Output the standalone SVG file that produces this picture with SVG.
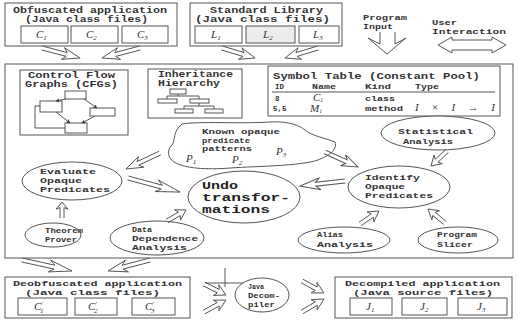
<svg xmlns="http://www.w3.org/2000/svg" xmlns:xlink="http://www.w3.org/1999/xlink" width="518" height="320" viewBox="0 0 518 320">
<style>
.t{font-family:"Liberation Mono","DejaVu Sans Mono",monospace;font-size:8.5px;font-weight:bold;fill:#333}
.s{font-size:7.5px}
.b{font-size:7.5px}
.big{font-size:11px;fill:#222}
.m{font-family:"Liberation Serif",serif;font-style:italic;font-size:11px;fill:#333}
.box{fill:#fff;stroke:#555;stroke-width:1}
.ln{fill:none;stroke:#555;stroke-width:1}
.el{fill:#fff;stroke:#555;stroke-width:1}
.ar{fill:none;stroke:#555;stroke-width:1;vector-effect:non-scaling-stroke}
</style>
<defs>
<path id="arr" class="ar" d="M0,-2 L13,-2 L11,-6 L20,0 L11,6 L13,2 L0,2"/>
<marker id="mh" viewBox="0 0 6 6" refX="5" refY="3" markerWidth="4" markerHeight="4" orient="auto"><path d="M0,0 L6,3 L0,6 Z" fill="#444"/></marker>
</defs>
<rect width="518" height="320" fill="#fff"/>

<g id="obfuscated">
<rect class="box" x="5" y="3" width="172" height="43"/>
<text class="t" x="13" y="13" textLength="154" lengthAdjust="spacingAndGlyphs">Obfuscated application</text>
<text class="t" x="25" y="22" textLength="123" lengthAdjust="spacingAndGlyphs">(Java class files)</text>
<rect class="box" x="21" y="26" width="47" height="17"/>
<rect class="box" x="71" y="26" width="47" height="17"/>
<rect class="box" x="122" y="26" width="46" height="17"/>
<text class="m" x="36" y="38">C<tspan font-size="7" dy="2">1</tspan></text>
<text class="m" x="86" y="38">C<tspan font-size="7" dy="2">2</tspan></text>
<text class="m" x="137" y="38">C<tspan font-size="7" dy="2">3</tspan></text>
</g>

<g id="stdlib">
<rect class="box" x="190" y="3" width="152" height="43"/>
<text class="t" x="210" y="13" textLength="113" lengthAdjust="spacingAndGlyphs">Standard Library</text>
<text class="t" x="195" y="22" textLength="135" lengthAdjust="spacingAndGlyphs">(Java class files)</text>
<rect class="box" x="195" y="26" width="47" height="17"/>
<rect class="box" x="246" y="26" width="49" height="17" style="fill:#ececec"/>
<rect class="box" x="299" y="26" width="40" height="17"/>
<text class="m" x="211" y="38">L<tspan font-size="7" dy="2">1</tspan></text>
<text class="m" x="263" y="38">L<tspan font-size="7" dy="2">2</tspan></text>
<text class="m" x="313" y="38">L<tspan font-size="7" dy="2">3</tspan></text>
</g>

<g id="input">
<text class="t s" x="363" y="20" textLength="44" lengthAdjust="spacingAndGlyphs">Program</text>
<text class="t s" x="363" y="29" textLength="30" lengthAdjust="spacingAndGlyphs">Input</text>
<path class="ln" d="M380,32 L380,44 L368,38 L387,54 L406,38 L395,44 L395,32"/>
</g>

<g id="user">
<text class="t s" x="432" y="25" textLength="25" lengthAdjust="spacingAndGlyphs">User</text>
<text class="t s" x="432" y="34" textLength="74" lengthAdjust="spacingAndGlyphs">Interaction</text>
<path class="ln" d="M452,37 L452,40 L492,40 L492,37 L506,45 L492,53 L492,50 L452,50 L452,53 L438,45 Z"/>
</g>

<g id="main">
<rect class="box" x="5" y="64" width="508" height="194"/>
</g>

<g id="cfg">
<rect class="box" x="20" y="70" width="108" height="65"/>
<text class="t" x="28" y="78" textLength="87" lengthAdjust="spacingAndGlyphs">Control Flow</text>
<text class="t" x="25" y="87" textLength="93" lengthAdjust="spacingAndGlyphs">Graphs (CFGs)</text>
<rect class="ln" x="65" y="91" width="21" height="8"/>
<rect class="ln" x="40" y="101" width="22" height="11"/>
<rect class="ln" x="90" y="108" width="25" height="8"/>
<rect class="ln" x="65" y="123" width="22" height="10"/>
<line class="ln" x1="66" y1="99" x2="56" y2="101" marker-end="url(#mh)"/>
<line class="ln" x1="84" y1="99" x2="97" y2="108" marker-end="url(#mh)"/>
<line class="ln" x1="56" y1="112" x2="70" y2="123" marker-end="url(#mh)"/>
<line class="ln" x1="95" y1="116" x2="82" y2="123" marker-end="url(#mh)"/>
<polyline class="ln" points="65,128 35,128 35,106 40,106"/>
</g>

<g id="inheritance">
<rect class="box" x="148" y="69" width="94" height="49"/>
<text class="t" x="158" y="77" textLength="75" lengthAdjust="spacingAndGlyphs">Inheritance</text>
<text class="t" x="158" y="86" textLength="62" lengthAdjust="spacingAndGlyphs">Hierarchy</text>
<rect class="ln" x="170" y="89" width="16" height="5"/>
<rect class="ln" x="158" y="99" width="19" height="4"/>
<rect class="ln" x="190" y="99" width="19" height="4"/>
<rect class="ln" x="175" y="109" width="18" height="4"/>
<rect class="ln" x="205" y="109" width="18" height="4"/>
<polyline class="ln" points="167,99 167,96 199,96 199,99"/>
<line class="ln" x1="178" y1="94" x2="178" y2="96"/>
<polyline class="ln" points="184,109 184,106 214,106 214,109"/>
<line class="ln" x1="199" y1="103" x2="199" y2="106"/>
</g>

<g id="symtab">
<rect class="box" x="268" y="66" width="232" height="50"/>
<text class="t" x="273" y="79" textLength="207" lengthAdjust="spacingAndGlyphs">Symbol Table (Constant Pool)</text>
<text class="t s" x="275" y="89">ID</text>
<text class="t s" x="312" y="89" textLength="24" lengthAdjust="spacingAndGlyphs">Name</text>
<text class="t s" x="365" y="89" textLength="26" lengthAdjust="spacingAndGlyphs">Kind</text>
<text class="t s" x="415" y="89" textLength="24" lengthAdjust="spacingAndGlyphs">Type</text>
<line class="ln" x1="272" y1="92" x2="495" y2="92"/>
<text class="t s" x="275" y="101">8</text>
<text class="m" x="313" y="101" font-size="8.5">C<tspan font-size="5.5" dy="1">1</tspan></text>
<text class="t s" x="365" y="101" textLength="30" lengthAdjust="spacingAndGlyphs">class</text>
<text class="t s" x="273" y="111">5,5</text>
<text class="m" x="310" y="112" font-size="8.5">M<tspan font-size="5.5" dy="1">1</tspan></text>
<text class="t s" x="365" y="111" textLength="38" lengthAdjust="spacingAndGlyphs">method</text>
<text class="m" x="415" y="111" font-size="9.5" textLength="80" lengthAdjust="spacing">I × I → I</text>
</g>

<g id="patterns">
<path class="ln" d="M182,124 C200,121 240,124 270,122 C290,121 300,126 305,130 C312,136 325,138 335,142 C338,150 328,156 318,160 C300,166 260,166 230,168 C205,170 185,168 176,163 C168,160 166,150 172,145 C176,140 172,132 182,124 Z" style="fill:#fff"/>
<text class="t s" x="202" y="134" textLength="78" lengthAdjust="spacingAndGlyphs">Known opaque</text>
<text class="t s" x="202" y="143" textLength="48" lengthAdjust="spacingAndGlyphs">predicate</text>
<text class="t s" x="202" y="151" textLength="50" lengthAdjust="spacingAndGlyphs">patterns</text>
<text class="m" x="186" y="162">P<tspan font-size="7" dy="2">1</tspan></text>
<text class="m" x="232" y="163">P<tspan font-size="7" dy="2">2</tspan></text>
<text class="m" x="276" y="155">P<tspan font-size="7" dy="2">3</tspan></text>
</g>

<g id="evaluate">
<ellipse class="el" cx="72" cy="181" rx="50" ry="19"/>
<text class="t s" x="40" y="174" textLength="56" lengthAdjust="spacingAndGlyphs">Evaluate</text>
<text class="t s" x="40" y="183" textLength="42" lengthAdjust="spacingAndGlyphs">Opaque</text>
<text class="t s" x="40" y="192" textLength="70" lengthAdjust="spacingAndGlyphs">Predicates</text>
</g>

<g id="theorem">
<ellipse class="el" cx="53" cy="235" rx="28" ry="12"/>
<text class="t s" x="45" y="233" textLength="38" lengthAdjust="spacingAndGlyphs">Theorem</text>
<text class="t s" x="45" y="242" textLength="32" lengthAdjust="spacingAndGlyphs">Prover</text>
</g>

<g id="datadep">
<ellipse class="el" cx="157" cy="238" rx="47" ry="17"/>
<text class="t s" x="132" y="232" textLength="20" lengthAdjust="spacingAndGlyphs">Data</text>
<text class="t s" x="132" y="241" textLength="66" lengthAdjust="spacingAndGlyphs">Dependence</text>
<text class="t s" x="132" y="250" textLength="55" lengthAdjust="spacingAndGlyphs">Analysis</text>
</g>

<g id="undo">
<ellipse class="el" cx="244" cy="197" rx="56" ry="26"/>
<text class="t big" x="202" y="189" textLength="36" lengthAdjust="spacingAndGlyphs">Undo</text>
<text class="t big" x="202" y="201" textLength="88" lengthAdjust="spacingAndGlyphs">transfor-</text>
<text class="t big" x="202" y="213" textLength="68" lengthAdjust="spacingAndGlyphs">mations</text>
</g>

<g id="statistical">
<ellipse class="el" cx="438" cy="133" rx="57" ry="17"/>
<text class="t s" x="398" y="134" textLength="75" lengthAdjust="spacingAndGlyphs">Statistical</text>
<text class="t s" x="403" y="144" textLength="50" lengthAdjust="spacingAndGlyphs">Analysis</text>
</g>

<g id="identify">
<ellipse class="el" cx="399" cy="187" rx="51" ry="21"/>
<text class="t s" x="365" y="180" textLength="55" lengthAdjust="spacingAndGlyphs">Identify</text>
<text class="t s" x="365" y="189" textLength="40" lengthAdjust="spacingAndGlyphs">Opaque</text>
<text class="t s" x="365" y="198" textLength="68" lengthAdjust="spacingAndGlyphs">Predicates</text>
</g>

<g id="alias">
<ellipse class="el" cx="344" cy="240" rx="46" ry="13"/>
<text class="t s" x="317" y="237" textLength="26" lengthAdjust="spacingAndGlyphs">Alias</text>
<text class="t s" x="317" y="247" textLength="56" lengthAdjust="spacingAndGlyphs">Analysis</text>
</g>

<g id="slicer">
<ellipse class="el" cx="458" cy="240" rx="40" ry="13"/>
<text class="t s" x="437" y="237" textLength="40" lengthAdjust="spacingAndGlyphs">Program</text>
<text class="t s" x="437" y="247" textLength="36" lengthAdjust="spacingAndGlyphs">Slicer</text>
</g>

<g id="deobfuscated">
<rect class="box" x="5" y="277" width="185" height="41"/>
<text class="t b" x="13" y="286" textLength="169" lengthAdjust="spacingAndGlyphs">Deobfuscated application</text>
<text class="t b" x="25" y="295" textLength="135" lengthAdjust="spacingAndGlyphs">(Java class files)</text>
<rect class="box" x="18" y="298" width="49" height="17"/>
<rect class="box" x="75" y="298" width="42" height="17"/>
<rect class="box" x="132" y="298" width="43" height="17"/>
<text class="m" x="34" y="310">C<tspan font-size="7" dy="-4">′</tspan><tspan font-size="7" dx="-3" dy="7">1</tspan></text>
<text class="m" x="88" y="310">C<tspan font-size="7" dy="-4">′</tspan><tspan font-size="7" dx="-3" dy="7">2</tspan></text>
<text class="m" x="145" y="310">C<tspan font-size="7" dy="-4">′</tspan><tspan font-size="7" dx="-3" dy="7">3</tspan></text>
</g>

<g id="decompiler">
<ellipse class="el" cx="262" cy="295" rx="27" ry="17"/>
<text class="t s" x="248" y="289" textLength="16" lengthAdjust="spacingAndGlyphs" font-size="6.5">Java</text>
<text class="t s" x="248" y="298" textLength="32" lengthAdjust="spacingAndGlyphs" font-size="6.5">Decom-</text>
<text class="t s" x="248" y="307" textLength="27" lengthAdjust="spacingAndGlyphs" font-size="6.5">piler</text>
</g>

<g id="decompiled">
<rect class="box" x="335" y="277" width="177" height="41"/>
<text class="t b" x="345" y="286" textLength="155" lengthAdjust="spacingAndGlyphs">Decompiled application</text>
<text class="t b" x="353" y="295" textLength="140" lengthAdjust="spacingAndGlyphs">(Java source files)</text>
<rect class="box" x="350" y="298" width="42" height="17"/>
<rect class="box" x="402" y="298" width="45" height="17"/>
<rect class="box" x="458" y="298" width="49" height="17"/>
<text class="m" x="366" y="310">J<tspan font-size="7" dy="2">1</tspan></text>
<text class="m" x="420" y="310">J<tspan font-size="7" dy="2">2</tspan></text>
<text class="m" x="477" y="310">J<tspan font-size="7" dy="2">3</tspan></text>
</g>

<g id="connectors">
<use xlink:href="#arr" transform="translate(160,153) rotate(154.8) scale(1.88,1)"/>
<use xlink:href="#arr" transform="translate(128,178) rotate(15.1) scale(2.7,1)"/>
<use xlink:href="#arr" transform="translate(62,218) rotate(-90) scale(0.8,1)"/>
<use xlink:href="#arr" transform="translate(167,221) rotate(-30.1) scale(1.1,1)"/>
<use xlink:href="#arr" transform="translate(325,152) rotate(24.4) scale(1.81,1)"/>
<use xlink:href="#arr" transform="translate(447,151) rotate(136.8) scale(1.1,1)"/>
<use xlink:href="#arr" transform="translate(345,181) rotate(173.7) scale(2.27,1)"/>
<use xlink:href="#arr" transform="translate(360,224) rotate(-34.4) scale(1.15,1)"/>
<use xlink:href="#arr" transform="translate(445,223) rotate(-140.5) scale(1.1,1)"/>
<use xlink:href="#arr" transform="translate(42,48) rotate(14.7) scale(1.97,1)"/>
<use xlink:href="#arr" transform="translate(140,48) rotate(165.3) scale(1.97,1)"/>
<use xlink:href="#arr" transform="translate(222,48) rotate(16.9) scale(1.73,1)"/>
<use xlink:href="#arr" transform="translate(318,48) rotate(163.1) scale(1.73,1)"/>
<use xlink:href="#arr" transform="translate(22,260) rotate(12.4) scale(2.56,1)"/>
<use xlink:href="#arr" transform="translate(150,260) rotate(165.3) scale(2.17,1)"/>
<use xlink:href="#arr" transform="translate(204,284) rotate(26.6) scale(1.23,1)"/>
<use xlink:href="#arr" transform="translate(204,312) rotate(-28.6) scale(1.25,1)"/>
<use xlink:href="#arr" transform="translate(302,281) rotate(28.6) scale(1.25,1)"/>
<use xlink:href="#arr" transform="translate(302,312) rotate(-30.6) scale(1.28,1)"/>
<line class="ln" x1="225" y1="268" x2="225" y2="287"/>
<line class="ln" x1="205" y1="283" x2="243" y2="283"/>
</g>
</svg>
